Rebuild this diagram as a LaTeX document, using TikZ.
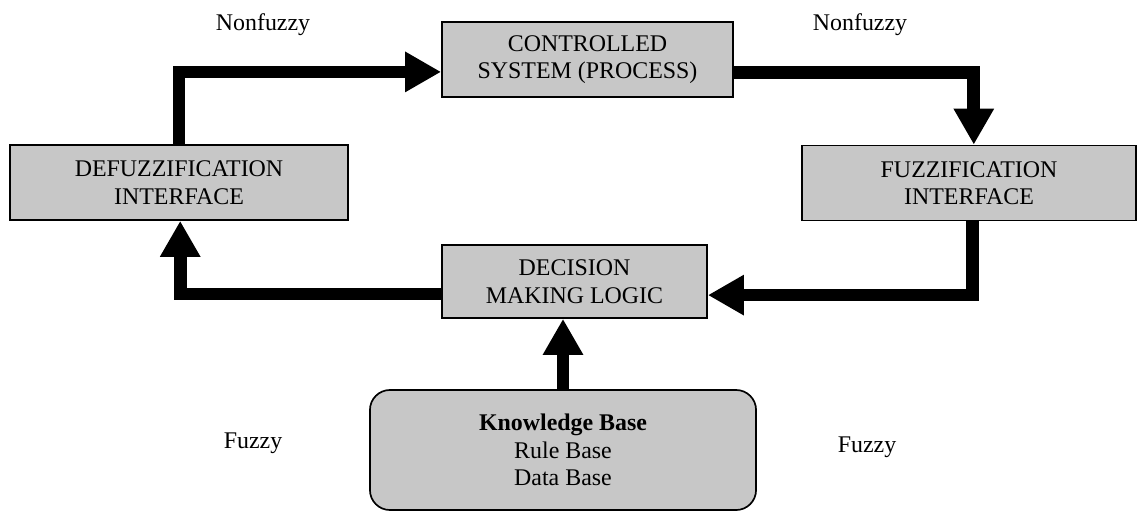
\documentclass[tikz,border=0pt]{standalone}
\usepackage{fontspec}
\setmainfont{Liberation Serif}
\usetikzlibrary{arrows.meta}

\tikzset{
    blk/.style={draw, line width=1.2pt, fill=black!22, align=center, minimum height=1.875cm, inner sep=2pt},
    flow/.style={line width=9pt, -{Triangle[length=0.9cm, width=0.95cm]}},
    lbl/.style={inner sep=0pt}
}

\begin{document}
\begin{tikzpicture}[x=0.025cm, y=-0.025cm, font=\fontsize{17}{19.5}\selectfont]
    \useasboundingbox (0,0) rectangle (1141,512);
    \node[blk, minimum width=7.275cm] (ctrl) at (587.5,59.5) {CONTROLLED\\SYSTEM (PROCESS)}; % 被控对象
    \node[blk, minimum width=8.45cm] (defuzz) at (179,182.5) {DEFUZZIFICATION\\INTERFACE}; % 解模糊
    \node[blk, minimum width=8.35cm] (fuzz) at (969,183) {FUZZIFICATION\\INTERFACE}; % 模糊化
    \node[blk, minimum width=6.625cm, minimum height=1.825cm] (dec) at (574.5,281.5) {DECISION\\MAKING LOGIC}; % 推理
    \node[blk, rounded corners=0.5cm, minimum width=9.65cm, minimum height=3cm] (kb) at (563,450) {\textbf{Knowledge Base}\\Rule Base\\Data Base}; % 知识库
    \foreach \nm/\x/\y/\t in {nf1/263/25/Nonfuzzy, nf2/860/25/Nonfuzzy, fz1/253/443/Fuzzy, fz2/867/447/Fuzzy}
        \node[lbl] (\nm) at (\x,\y) {\t};
    \draw[flow] (defuzz.north) |- ([yshift=-0.31cm]ctrl.west); % 输出到对象
    \draw[flow] ([yshift=-0.33cm]ctrl.east) -| ([xshift=0.12cm]fuzz.north); % 对象测量值
    \draw[flow] ([xshift=0.08cm]fuzz.south) |- ([yshift=-0.34cm]dec.east); % 模糊输入
    \draw[flow] ([yshift=-0.31cm]dec.west) -| ([xshift=0.03cm]defuzz.south); % 模糊输出
    \draw[flow] (kb.north) -- (kb.north |- dec.south); % 规则
\end{tikzpicture}
\end{document}
